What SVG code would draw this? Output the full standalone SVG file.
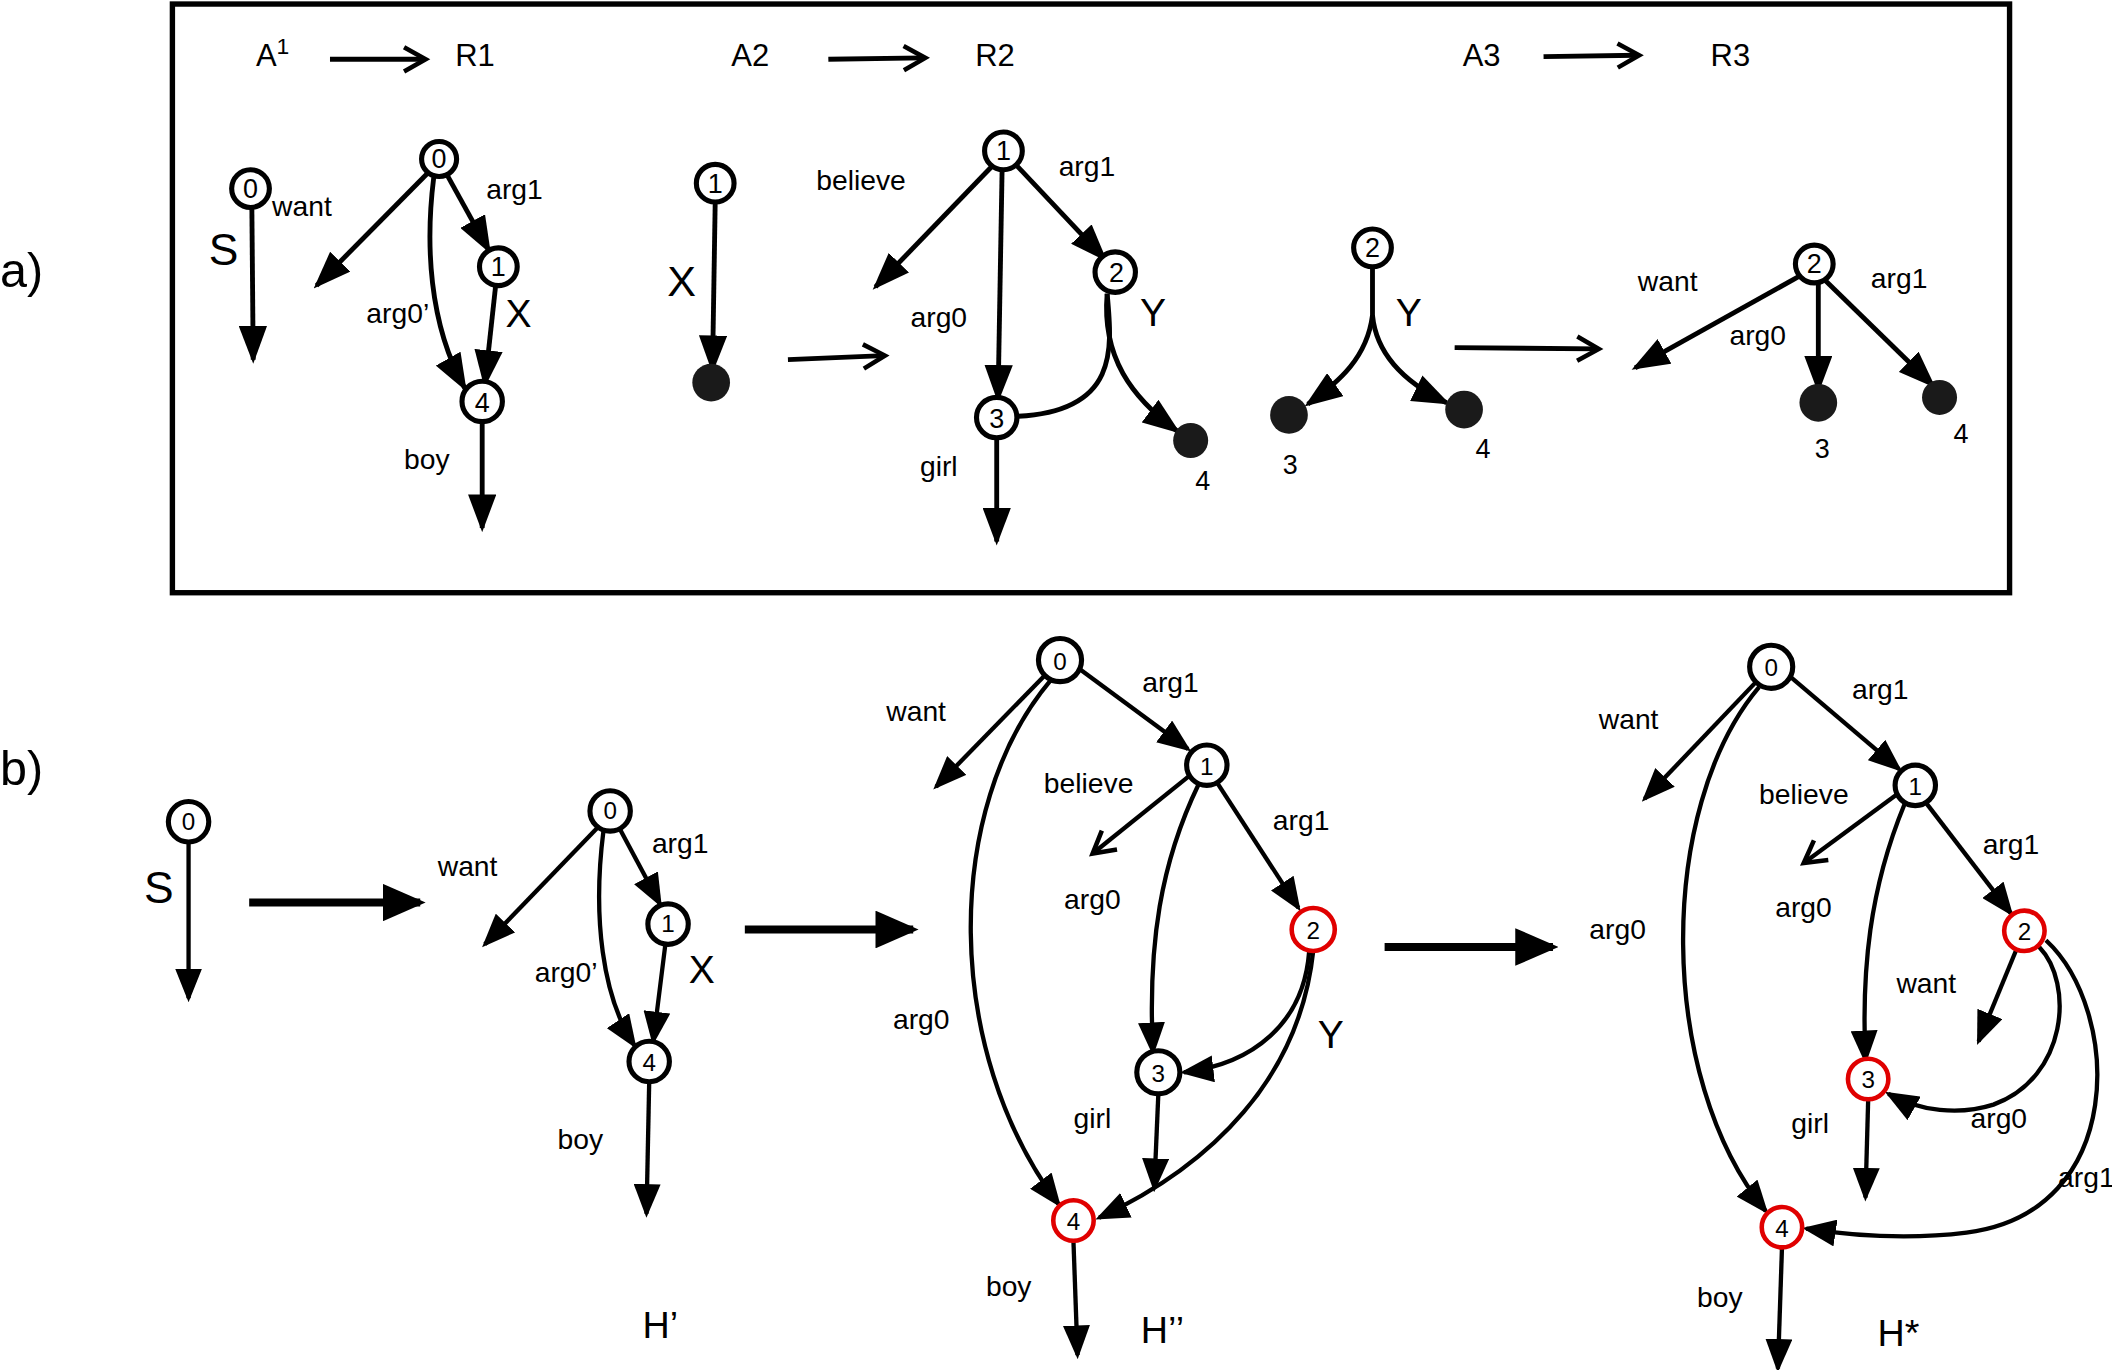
<svg xmlns="http://www.w3.org/2000/svg" width="2112" height="1370" viewBox="0 0 2112 1370">
<style>
.e{fill:none;stroke:#000;stroke-width:3.6}
.eb{fill:none;stroke:#000;stroke-width:3.2}
.big{fill:none;stroke:#000;stroke-width:6}
.n{fill:#fff;stroke:#000;stroke-width:3.8}
.nr{fill:#fff;stroke:#e00000;stroke-width:3.4}
.d{fill:#1a1a1a}
text{font-family:"Liberation Sans",Arial,sans-serif;fill:#000}
.t{font-size:21px}
.tb{font-size:21px}
.nl{font-size:18px;text-anchor:middle}
.na{font-size:20px;text-anchor:middle}
.L{text-anchor:middle}
.hd{font-size:23px}
.h{font-size:28px}
.p{font-size:36px}
</style>
<defs>
<marker id="ah" markerUnits="userSpaceOnUse" viewBox="0 0 28 21" markerWidth="28" markerHeight="21" refX="25" refY="10.5" orient="auto"><path d="M0,0 L28,10.5 L0,21 z"/></marker>
<marker id="ahb" markerUnits="userSpaceOnUse" viewBox="0 0 25 20" markerWidth="25" markerHeight="20" refX="22" refY="10" orient="auto"><path d="M0,0 L25,10 L0,20 z"/></marker>
<marker id="ahL" markerUnits="userSpaceOnUse" viewBox="0 0 32 28" markerWidth="32" markerHeight="28" refX="28" refY="14" orient="auto"><path d="M0,0 L32,14 L0,28 z"/></marker>
<marker id="op" markerUnits="userSpaceOnUse" viewBox="-3 -3 22 24" markerWidth="22" markerHeight="24" refX="15" refY="9" orient="auto" overflow="visible"><path d="M0,0 L16,9 L0,18" fill="none" stroke="#000" stroke-width="3.4"/></marker>
</defs>
<rect width="2112" height="1370" fill="#fff"/>
<g transform="scale(1.3469,1.3471)">
<rect id="frame" x="128" y="3" width="1364" height="437" fill="none" stroke="#000" stroke-width="4"/>
<text class="p" x="0" y="213">a)</text>
<text class="p" x="0" y="583">b)</text>

<g id="connectors">
<!-- header arrows -->
<path class="e" d="M245,44 L315,44" marker-end="url(#op)"/>
<path class="e" d="M615,44 L686,43" marker-end="url(#op)"/>
<path class="e" d="M1146,42 L1216,41" marker-end="url(#op)"/>
<!-- A1 -->
<path class="e" d="M187,155 L188,267" marker-end="url(#ah)"/>
<!-- R1 -->
<path class="e" d="M318,128 L235,212" marker-end="url(#ah)"/>
<path class="e" d="M332,130 L363,186" marker-end="url(#ah)"/>
<path class="e" d="M322,132 C316,180 318,240 345,288" marker-end="url(#ah)"/>
<path class="e" d="M368,212 L360,285" marker-end="url(#ah)"/>
<path class="e" d="M358,313 L358,392" marker-end="url(#ah)"/>
<!-- A2 -->
<path class="e" d="M531,150 L529,274" marker-end="url(#ah)"/>
<path class="e" d="M585,267 L656,264" marker-end="url(#op)"/>
<!-- R2 -->
<path class="e" d="M736,124 L650,213" marker-end="url(#ah)"/>
<path class="e" d="M744,126 L741,296" marker-end="url(#ah)"/>
<path class="e" d="M754,122 L820,192" marker-end="url(#ah)"/>
<path class="e" d="M822,218 C826,260 830,305 756,309"/>
<path class="e" d="M822,218 C818,265 840,295 874,320" marker-end="url(#ah)"/>
<path class="e" d="M740,325 L740,402" marker-end="url(#ah)"/>
<!-- A3 -->
<path class="e" d="M1019,198 L1019,238" stroke-width="5"/>
<path class="e" d="M1019,234 C1015,265 995,283 971,300" marker-end="url(#ah)"/>
<path class="e" d="M1019,234 C1022,265 1045,285 1074,299" marker-end="url(#ah)"/>
<path class="e" d="M1080,258 L1186,259" marker-end="url(#op)"/>
<!-- R3 -->
<path class="e" d="M1336,205 L1214,273" marker-end="url(#ah)"/>
<path class="e" d="M1350,210 L1350,289" marker-end="url(#ah)"/>
<path class="e" d="M1355,208 L1435,286" marker-end="url(#ah)"/>
<!-- b) S -->
<path class="eb" d="M140,625 L140,741" marker-end="url(#ahb)"/>
<path class="big" d="M185,670 L312,670" marker-end="url(#ahL)"/>
<!-- H' -->
<path class="eb" d="M445,613 L360,701" marker-end="url(#ahb)"/>
<path class="eb" d="M460,615 L490,671" marker-end="url(#ahb)"/>
<path class="eb" d="M448,617 C440,680 447,740 471,776" marker-end="url(#ahb)"/>
<path class="eb" d="M494,701 L485,773" marker-end="url(#ahb)"/>
<path class="eb" d="M482,803 L480,901" marker-end="url(#ahb)"/>
<path class="big" d="M553,690 L678,690" marker-end="url(#ahL)"/>
<!-- H'' -->
<path class="eb" d="M776,501 L695,584" marker-end="url(#ahb)"/>
<path class="eb" d="M802,497 L882,556" marker-end="url(#ahb)"/>
<path class="eb" d="M780,505 C700,600 700,780 786,894" marker-end="url(#ahb)"/>
<path class="eb" d="M883,576 L812,633" marker-end="url(#op)"/>
<path class="eb" d="M890,582 C862,640 852,700 856,781" marker-end="url(#ahb)"/>
<path class="eb" d="M903,580 L964,674" marker-end="url(#ahb)"/>
<path class="eb" d="M972,706 C968,760 930,790 879,796" marker-end="url(#ahb)"/>
<path class="eb" d="M975,706 C965,800 900,865 816,904" marker-end="url(#ahb)"/>
<path class="eb" d="M860,812 L857,882" marker-end="url(#ahb)"/>
<path class="eb" d="M797,922 L800,1006" marker-end="url(#ahb)"/>
<path class="big" d="M1028,703 L1153,703" marker-end="url(#ahL)"/>
<!-- H* -->
<path class="eb" d="M1304,506 L1221,593" marker-end="url(#ahb)"/>
<path class="eb" d="M1330,503 L1410,571" marker-end="url(#ahb)"/>
<path class="eb" d="M1306,510 C1230,600 1230,800 1311,899" marker-end="url(#ahb)"/>
<path class="eb" d="M1408,590 L1340,640" marker-end="url(#op)"/>
<path class="eb" d="M1414,597 C1388,660 1382,720 1385,787" marker-end="url(#ahb)"/>
<path class="eb" d="M1430,596 L1493,678" marker-end="url(#ahb)"/>
<path class="eb" d="M1497,705 L1469,773" marker-end="url(#ahb)"/>
<path class="eb" d="M1514,703 C1540,730 1535,800 1480,820 C1455,828 1425,825 1402,812" marker-end="url(#ahb)"/>
<path class="eb" d="M1519,698 C1575,750 1580,900 1460,915 C1420,920 1380,918 1341,912" marker-end="url(#ahb)"/>
<path class="eb" d="M1387,817 L1385,889" marker-end="url(#ahb)"/>
<path class="eb" d="M1323,927 L1320,1016" marker-end="url(#ahb)"/>
</g>

<g id="headers">
<text class="hd" x="190" y="49">A<tspan style="font-size:17px" dy="-9">1</tspan></text>
<text class="hd" x="338" y="49">R1</text>
<text class="hd" x="543" y="49">A2</text>
<text class="hd" x="724" y="49">R2</text>
<text class="hd" x="1086" y="49">A3</text>
<text class="hd" x="1270" y="49">R3</text>
</g>

<g id="A1">
<circle class="n" cx="186" cy="140" r="14"/><text class="na" x="186" y="147">0</text>
<text class="L" x="166" y="197" style="font-size:33px">S</text>
<text class="t" x="202" y="160">want</text>
</g>
<g id="R1">
<circle class="n" cx="326" cy="118" r="13"/><text class="na" x="326" y="125">0</text>
<circle class="n" cx="370" cy="198" r="14"/><text class="na" x="370" y="205">1</text>
<circle class="n" cx="358" cy="298" r="15"/><text class="na" x="358" y="306">4</text>
<text class="t" x="361" y="148">arg1</text>
<text class="t" x="272" y="240">arg0’</text>
<text class="L" x="385" y="243" style="font-size:29px">X</text>
<text class="t" x="300" y="348">boy</text>
</g>
<g id="A2">
<circle class="n" cx="531" cy="136" r="14"/><text class="na" x="531" y="143">1</text>
<circle class="d" cx="528" cy="284" r="14"/>
<text class="L" x="506" y="220" style="font-size:32px">X</text>
</g>
<g id="R2">
<circle class="n" cx="745" cy="112" r="14"/><text class="na" x="745" y="119">1</text>
<circle class="n" cx="828" cy="202" r="15"/><text class="na" x="829" y="209">2</text>
<circle class="n" cx="740" cy="310" r="15"/><text class="na" x="740" y="318">3</text>
<circle class="d" cx="884" cy="327" r="13"/>
<text class="t" x="606" y="141">believe</text>
<text class="t" x="676" y="243">arg0</text>
<text class="t" x="786" y="131">arg1</text>
<text class="L" x="856" y="242" style="font-size:29px">Y</text>
<text class="t" x="683" y="353">girl</text>
<text class="nl" x="893" y="364" style="font-size:20px">4</text>
</g>
<g id="A3">
<circle class="n" cx="1019" cy="184" r="14"/><text class="na" x="1019" y="191">2</text>
<circle class="d" cx="957" cy="308" r="14"/>
<circle class="d" cx="1087" cy="304" r="14"/>
<text class="L" x="1046" y="242" style="font-size:29px">Y</text>
<text class="nl" x="958" y="352" style="font-size:20px">3</text>
<text class="nl" x="1101" y="340" style="font-size:20px">4</text>
</g>
<g id="R3">
<circle class="n" cx="1347" cy="196" r="14"/><text class="na" x="1347" y="203">2</text>
<circle class="d" cx="1350" cy="299" r="14"/>
<circle class="d" cx="1440" cy="295" r="13"/>
<text class="t" x="1216" y="216">want</text>
<text class="t" x="1284" y="256">arg0</text>
<text class="t" x="1389" y="214">arg1</text>
<text class="nl" x="1353" y="340" style="font-size:20px">3</text>
<text class="nl" x="1456" y="329" style="font-size:20px">4</text>
</g>

<g id="bS">
<circle class="n" cx="140" cy="610" r="15"/><text class="nl" x="140" y="616">0</text>
<text class="L" x="118" y="670" style="font-size:33px">S</text>
</g>
<g id="Hp">
<circle class="n" cx="453" cy="602" r="15"/><text class="nl" x="453" y="608">0</text>
<circle class="n" cx="496" cy="686" r="15"/><text class="nl" x="496" y="692">1</text>
<circle class="n" cx="482" cy="788" r="15"/><text class="nl" x="482" y="795">4</text>
<text class="tb" x="325" y="650">want</text>
<text class="tb" x="484" y="633">arg1</text>
<text class="tb" x="397" y="729">arg0’</text>
<text class="L" x="521" y="730" style="font-size:29px">X</text>
<text class="tb" x="414" y="853">boy</text>
<text class="h" x="477" y="993">H’</text>
</g>
<g id="Hpp">
<circle class="n" cx="787" cy="490" r="16"/><text class="nl" x="787" y="497">0</text>
<circle class="n" cx="896" cy="568" r="15"/><text class="nl" x="896" y="575">1</text>
<circle class="nr" cx="975" cy="690" r="16"/><text class="nl" x="975" y="697">2</text>
<circle class="n" cx="860" cy="796" r="16"/><text class="nl" x="860" y="803">3</text>
<circle class="nr" cx="797" cy="906" r="15"/><text class="nl" x="797" y="913">4</text>
<text class="tb" x="658" y="535">want</text>
<text class="tb" x="848" y="514">arg1</text>
<text class="tb" x="663" y="764">arg0</text>
<text class="tb" x="775" y="589">believe</text>
<text class="tb" x="790" y="675">arg0</text>
<text class="tb" x="945" y="616">arg1</text>
<text class="L" x="988" y="778" style="font-size:29px">Y</text>
<text class="tb" x="797" y="837">girl</text>
<text class="tb" x="732" y="962">boy</text>
<text class="h" x="847" y="997">H’’</text>
</g>
<g id="Hstar">
<circle class="n" cx="1315" cy="495" r="16"/><text class="nl" x="1315" y="502">0</text>
<circle class="n" cx="1422" cy="583" r="15"/><text class="nl" x="1422" y="590">1</text>
<circle class="nr" cx="1503" cy="691" r="15"/><text class="nl" x="1503" y="698">2</text>
<circle class="nr" cx="1387" cy="801" r="15"/><text class="nl" x="1387" y="808">3</text>
<circle class="nr" cx="1323" cy="911" r="15"/><text class="nl" x="1323" y="918">4</text>
<text class="tb" x="1187" y="541">want</text>
<text class="tb" x="1375" y="519">arg1</text>
<text class="tb" x="1180" y="697">arg0</text>
<text class="tb" x="1306" y="597">believe</text>
<text class="tb" x="1318" y="681">arg0</text>
<text class="tb" x="1472" y="634">arg1</text>
<text class="tb" x="1408" y="737">want</text>
<text class="tb" x="1463" y="837">arg0</text>
<text class="tb" x="1528" y="881">arg1</text>
<text class="tb" x="1330" y="841">girl</text>
<text class="tb" x="1260" y="970">boy</text>
<text class="h" x="1394" y="999">H*</text>
</g>
</g>
</svg>
